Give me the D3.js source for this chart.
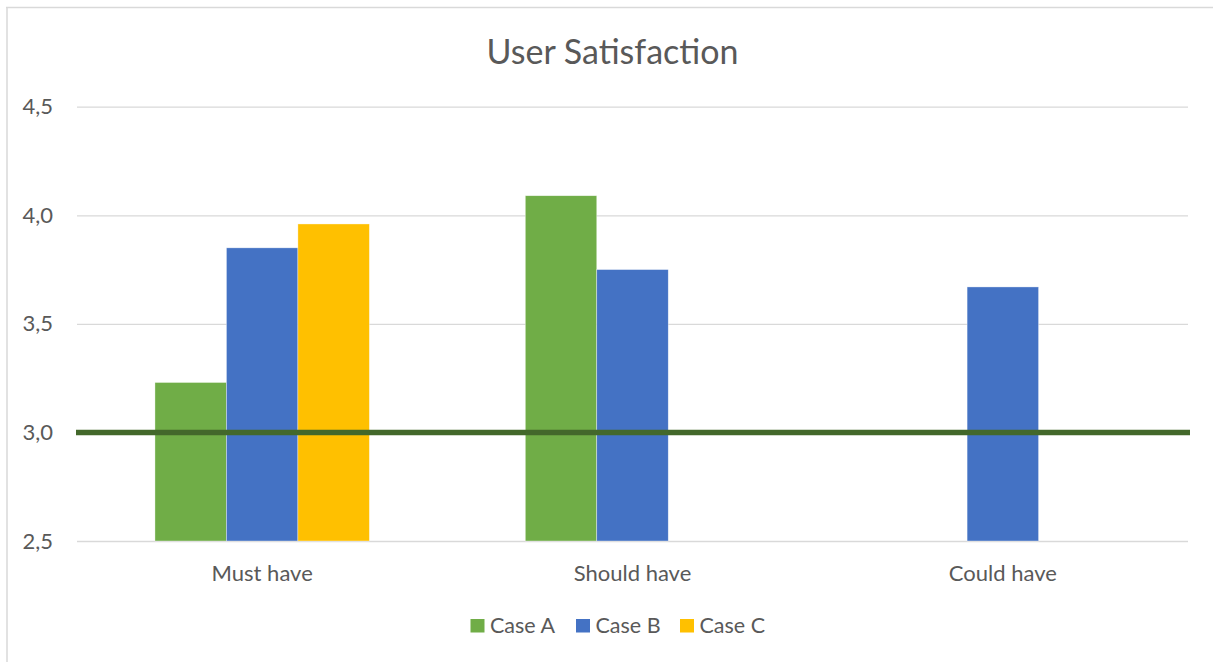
<!DOCTYPE html>
<html>
<head>
<meta charset="utf-8">
<script src="https://cdn.jsdelivr.net/npm/d3@7"></script>
<style>
  html, body { margin: 0; padding: 0; background: #fff; }
  svg { display: block; }
  text { font-family: Lato, "Open Sans", sans-serif; fill: #595959; }
</style>
</head>
<body>
<svg id="chart" width="1213" height="662"></svg>
<script>
// ---- data ----
const title = "User Satisfaction";
const categories = ["Must have", "Should have", "Could have"];
const seriesNames = ["Case A", "Case B", "Case C"];
const caseA = [3.23, 4.09, null];
const caseB = [3.85, 3.75, 3.67];
const caseC = [3.96, null, null];
const threshold = 3.0;
const yTicks = [2.5, 3.0, 3.5, 4.0, 4.5];
const colors = ["#70ad47", "#4472c4", "#ffc000"];
const thresholdColor = "#43682b";

const seriesValues = [caseA, caseB, caseC];

const svg = d3.select("#chart");
const W = 1213, H = 662;
const plot = { left: 77, right: 1188, top: 106.7, bottom: 541 };

// chart area border (top and left edges visible)
svg.append("line").attr("x1", 6).attr("x2", W).attr("y1", 7.5).attr("y2", 7.5)
  .attr("stroke", "#d9d9d9").attr("stroke-width", 1.5);
svg.append("line").attr("x1", 7).attr("x2", 7).attr("y1", 7).attr("y2", H)
  .attr("stroke", "#d9d9d9").attr("stroke-width", 1.5);

const x0 = d3.scaleBand().domain(categories).range([plot.left, plot.right])
  .paddingInner(0.421).paddingOuter(0.2105);
const x1 = d3.scaleBand().domain(seriesNames).range([0, x0.bandwidth()]);
const y = d3.scaleLinear().domain([2.5, 4.5]).range([plot.bottom, plot.top]);

// gridlines + y labels
const yAxis = d3.axisLeft(y).tickValues(yTicks)
  .tickSize(-(plot.right - plot.left))
  .tickPadding(24)
  .tickFormat(d => d3.format(".1f")(d).replace(".", ","));
const gy = svg.append("g").attr("transform", `translate(${plot.left},0)`).call(yAxis);
gy.select(".domain").remove();
gy.selectAll(".tick line").attr("stroke", "#d9d9d9").attr("stroke-width", 1.3);
gy.selectAll(".tick text").style("font-size", "22px").attr("fill", "#595959")
  .style("font-family", "Lato, sans-serif");

// bars
const rows = [];
categories.forEach((c, i) => {
  seriesNames.forEach((s, j) => {
    const v = seriesValues[j][i];
    if (v !== null) rows.push({ cat: c, series: s, value: v, color: colors[j] });
  });
});
svg.append("g").selectAll("rect").data(rows).join("rect")
  .attr("x", d => x0(d.cat) + x1(d.series))
  .attr("y", d => y(d.value))
  .attr("width", x1.bandwidth())
  .attr("height", d => y(2.5) - y(d.value))
  .attr("fill", d => d.color)
  .attr("stroke", "#ffffff").attr("stroke-width", 0.6).attr("stroke-opacity", 0.6);

// threshold line
svg.append("line")
  .attr("x1", plot.left - 1).attr("x2", plot.right + 2)
  .attr("y1", y(threshold)).attr("y2", y(threshold))
  .attr("stroke", thresholdColor).attr("stroke-width", 5.5);

// x axis labels
const xAxis = d3.axisBottom(x0).tickSize(0).tickPadding(24);
const gx = svg.append("g").attr("transform", `translate(0,${plot.bottom})`).call(xAxis);
gx.select(".domain").remove();
gx.selectAll(".tick text").style("font-size", "22px").attr("fill", "#595959")
  .style("font-family", "Lato, sans-serif");

// title
svg.append("text").attr("x", 612.5).attr("y", 64).attr("text-anchor", "middle")
  .style("font-size", "34px").text(title);

// legend
const legendX = [470.5, 576, 680];
const lg = svg.append("g").selectAll("g").data(seriesNames).join("g")
  .attr("transform", (d, i) => `translate(${legendX[i]},619)`);
lg.append("rect").attr("width", 14).attr("height", 13.5).attr("fill", (d, i) => colors[i]);
lg.append("text").attr("x", 19.5).attr("y", 14).style("font-size", "21.5px").text(d => d);
</script>
</body>
</html>
